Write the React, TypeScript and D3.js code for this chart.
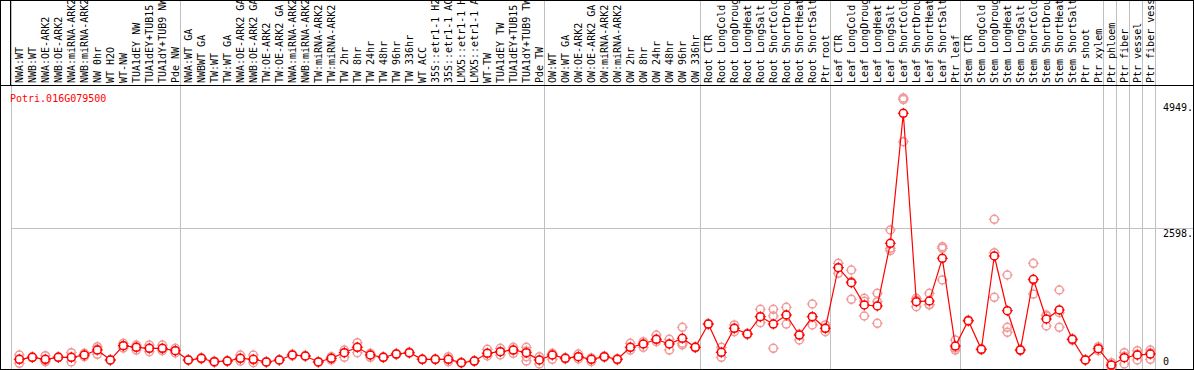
import React from "react";
import * as d3 from "d3";

const labels: string[] = [
  "NWA:WT", "NWB:WT", "NWA:OE-ARK2", "NWB:OE-ARK2", "NWA:miRNA-ARK2", "NWB:miRNA-ARK2",
  "NW 0hr", "WT H2O", "WT-NW", "TUA1dEY NW", "TUA1dEY+TUB15", "TUA1dY+TUB9 NW", "Pde NW",
  "NWA:WT GA", "NWBWT GA", "TW:WT", "TW:WT GA", "NWA:OE-ARK2 GA", "NWB:OE-ARK2 GA",
  "TW:OE-ARK2", "TW:OE-ARK2 GA", "NWA:miRNA-ARK2", "NWB:miRNA-ARK2", "TW:miRNA-ARK2",
  "TW:miRNA-ARK2", "TW 2hr", "TW 8hr", "TW 24hr", "TW 48hr", "TW 96hr", "TW 336hr",
  "WT ACC", "35S::etr1-1 H2", "35S::etr1-1 AC", "LMX5::etr1-1 H", "LMX5::etr1-1 A",
  "WT-TW", "TUA1dEY TW", "TUA1dEY+TUB15", "TUA1dY+TUB9 TW", "Pde TW",
  "OW:WT", "OW:WT GA", "OW:OE-ARK2", "OW:OE-ARK2 GA", "OW:miRNA-ARK2", "OW:miRNA-ARK2",
  "OW 2hr", "OW 8hr", "OW 24hr", "OW 48hr", "OW 96hr", "OW 336hr",
  "Root CTR", "Root LongCold", "Root LongDroug", "Root LongHeat", "Root LongSalt",
  "Root ShortCold", "Root ShortDrou", "Root ShortHeat", "Root ShortSalt", "Ptr root",
  "Leaf CTR", "Leaf LongCold", "Leaf LongDroug", "Leaf LongHeat", "Leaf LongSalt",
  "Leaf ShortCold", "Leaf ShortDrou", "Leaf ShortHeat", "Leaf ShortSalt", "Ptr leaf",
  "Stem CTR", "Stem LongCold", "Stem LongDroug", "Stem LongHeat", "Stem LongSalt",
  "Stem ShortCold", "Stem ShortDrou", "Stem ShortHeat", "Stem ShortSalt", "Ptr shoot",
  "Ptr xylem", "Ptr phloem", "Ptr fiber", "Ptr vessel", "Ptr fiber vess",
];

const groupSizes: number[] = [13, 28, 12, 10, 10, 11, 1, 1, 1, 1];

const means: number[] = [
  144, 182, 144, 182, 182, 225, 318, 131, 399, 369, 350, 350, 305,
  131, 163, 99, 112, 163, 144, 94, 131, 225, 206, 94, 163, 268, 369, 225, 182, 243, 268,
  144, 144, 144, 81, 112, 257, 287, 318, 268, 131,
  225, 163, 193, 144, 193, 144, 369, 431, 519, 431, 538, 369,
  805, 275, 725, 618, 942, 805, 974, 599, 942, 725,
  1860, 1579, 1161, 1143, 2317, 4752, 1223, 1236, 2036, 393,
  867, 331, 2079, 1054, 318, 1643, 899, 1068, 519, 131, 343,
  37, 174, 225, 243,
];

const replicates: number[][] = [
  [225, 144, 69], [190, 182, 175], [212, 120, 99], [190, 182, 175], [268, 182, 94],
  [257, 225, 193], [380, 336, 238], [140, 131, 122], [444, 399, 355], [412, 375, 318],
  [412, 350, 287], [412, 340, 305], [350, 305, 262],
  [140, 131, 122], [175, 163, 150], [110, 99, 88], [120, 112, 104], [225, 163, 112],
  [225, 131, 80], [100, 94, 88], [140, 131, 122], [240, 225, 210], [215, 206, 197],
  [100, 94, 88], [193, 163, 130], [318, 268, 182], [455, 369, 268], [257, 225, 182],
  [190, 182, 175], [255, 243, 231], [280, 268, 256], [150, 144, 138], [150, 144, 138],
  [193, 144, 100], [88, 81, 74], [120, 112, 104], [331, 257, 206], [350, 287, 225],
  [369, 318, 257], [369, 300, 193, 112], [193, 131, 56],
  [257, 225, 144], [175, 163, 150], [243, 193, 150], [170, 144, 99], [205, 193, 180],
  [155, 144, 133], [444, 369, 318], [474, 431, 369], [599, 519, 474], [519, 431, 318],
  [744, 444, 412], [380, 369, 358],
  [815, 805, 795], [369, 275, 182], [787, 725, 661], [630, 618, 606], [1081, 942, 830],
  [1081, 955, 350], [1118, 974, 805], [618, 599, 506], [1180, 942, 787], [787, 725, 661],
  [1942, 1860, 1755], [1817, 1600, 1268], [1287, 1230, 955], [1380, 1223, 818],
  [2566, 2223, 2180], [5040, 5010, 4220], [1287, 1250, 1130], [1380, 1170, 1161],
  [2253, 2223, 1630], [506, 355, 318],
  [880, 867, 855], [340, 331, 320], [2766, 2141, 1305], [1723, 744, 650], [331, 318, 305],
  [1942, 1630, 1367], [974, 955, 768], [1442, 1018, 744], [530, 519, 500], [140, 131, 122],
  [380, 343, 306],
  [81, 37, 0], [268, 200, 56], [305, 240, 131], [318, 268, 144],
];

const yTicks: number[] = [4949, 2598, 0];
const yTickLabels: string[] = ["4949.", "2598.", "0"];
const gridTicks: number[] = [2598];
const geneName = "Potri.016G079500";

const W = 1194;
const H = 370;
const FONT = "'DejaVu Sans Mono', 'Liberation Mono', monospace";

export default function App() {
  const left = 11;
  const colW = 13;
  const plotTop = 85;
  const plotBottom = 369;
  const x = d3
    .scaleBand<string>()
    .domain(labels.map((_, i) => String(i)))
    .range([left, left + labels.length * colW]);
  const right = left + labels.length * colW;
  const off = x.bandwidth() * 0.64;
  const px = (i: number) => (x(String(i)) as number) + off;
  const y = d3.scaleLinear().domain([0, 5282]).range([367, plotTop]);

  const line = d3
    .line<number>()
    .x((_, i) => px(i))
    .y((d) => y(d));

  const boundaries: number[] = [];
  let acc = 0;
  boundaries.push(left);
  groupSizes.forEach((s) => {
    acc += s;
    boundaries.push(acc < labels.length ? (x(String(acc)) as number) : right);
  });

  const mk = (cx: number, cy: number, color: string, fill: string, key: string) => (
    <g key={key}>
      <circle cx={cx} cy={cy} r={4} fill={fill} stroke={color} strokeWidth={1.5} />
      <line x1={cx} x2={cx} y1={cy - 5.5} y2={cy - 3} stroke={color} strokeWidth={1} />
      <line x1={cx} x2={cx} y1={cy + 3} y2={cy + 5.5} stroke={color} strokeWidth={1} />
      <line x1={cx - 5.5} x2={cx - 3} y1={cy} y2={cy} stroke={color} strokeWidth={1} />
      <line x1={cx + 3} x2={cx + 5.5} y1={cy} y2={cy} stroke={color} strokeWidth={1} />
    </g>
  );

  return (
    <>
      <style>{`body{margin:0;}`}</style>
      <svg width={W} height={H} style={{ display: "block", background: "#fff" }}>
        {boundaries.map((bx, i) => (
          <line key={"b" + i} x1={bx + 0.5} x2={bx + 0.5} y1={0} y2={plotBottom}
            stroke="#c0c0c0" strokeWidth={1} shapeRendering="crispEdges" />
        ))}
        {gridTicks.map((t) => (
          <line key={"g" + t} x1={left} x2={W} y1={Math.round(y(t)) + 0.5} y2={Math.round(y(t)) + 0.5}
            stroke="#c0c0c0" strokeWidth={1} shapeRendering="crispEdges" />
        ))}
        <rect x={0.5} y={0.5} width={W - 1} height={plotBottom} fill="none" stroke="#000"
          strokeWidth={1} shapeRendering="crispEdges" />
        <line x1={0} x2={W} y1={plotTop + 0.5} y2={plotTop + 0.5} stroke="#000" strokeWidth={1}
          shapeRendering="crispEdges" />
        <line x1={10.5} x2={10.5} y1={0} y2={plotTop} stroke="#000" strokeWidth={1}
          shapeRendering="crispEdges" />

        {labels.map((l, i) => (
          <text key={"l" + i} transform={`translate(${px(i) + 3.5},83) rotate(-90)`}
            fontFamily={FONT} fontSize={10} fill="#000">{l}</text>
        ))}

        <text x={10} y={101.5} fontFamily={FONT} fontSize={10} fill="#ff0000">{geneName}</text>

        {yTicks.map((t, i) => (
          <text key={"t" + t} x={1163} y={t === 0 ? y(t) - 2 : y(t) + 8.5} fontFamily={FONT}
            fontSize={10} fill="#000">{yTickLabels[i]}</text>
        ))}

        {replicates.map((reps, i) =>
          reps.map((v, j) => mk(px(i), y(v), "#f09a9a", "none", `r${i}-${j}`))
        )}

        <path d={line(means) || ""} fill="none" stroke="#ff0000" strokeWidth={1.2} />

        {means.map((v, i) => mk(px(i), y(v), "#ff0000", "#fff", `m${i}`))}
      </svg>
    </>
  );
}
